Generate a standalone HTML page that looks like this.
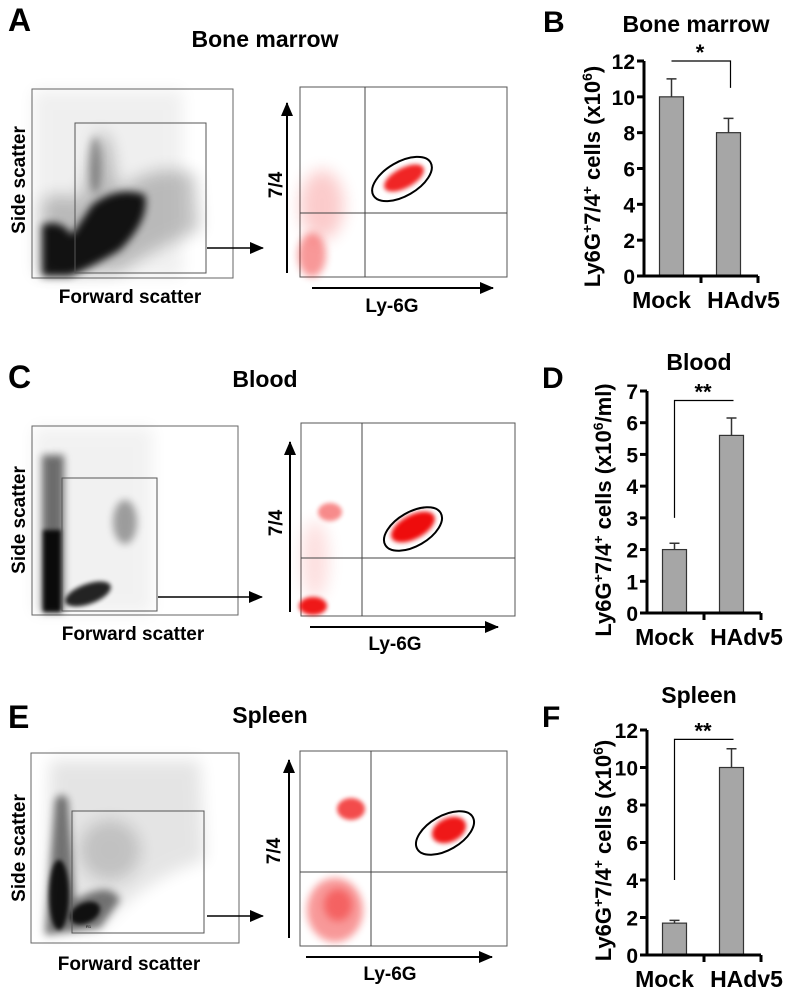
<!DOCTYPE html>
<html><head><meta charset="utf-8">
<style>
html,body{margin:0;padding:0;background:#fff;}
svg{display:block;font-family:"Liberation Sans",Arial,sans-serif;font-weight:bold;}
</style></head>
<body>
<svg id="fig" width="795" height="1000" viewBox="0 0 795 1000" xmlns="http://www.w3.org/2000/svg">
<defs>
<filter id="b2" x="-50%" y="-50%" width="200%" height="200%"><feGaussianBlur stdDeviation="2"/></filter>
<filter id="b4" x="-50%" y="-50%" width="200%" height="200%"><feGaussianBlur stdDeviation="4"/></filter>
<filter id="b8" x="-50%" y="-50%" width="200%" height="200%"><feGaussianBlur stdDeviation="8"/></filter>
<marker id="ah2" markerWidth="14" markerHeight="12" refX="13" refY="6" orient="auto" markerUnits="userSpaceOnUse"><path d="M0,0 L14,6 L0,12 z" fill="#000"/></marker>
</defs>

<text x="8" y="31" font-size="32">A</text>
<text x="265" y="47" font-size="23" text-anchor="middle">Bone marrow</text>
<text x="543" y="32" font-size="30">B</text>
<text x="8" y="388" font-size="32">C</text>
<text x="265" y="387" font-size="23" text-anchor="middle">Blood</text>
<text x="542" y="388" font-size="30">D</text>
<text x="8" y="728" font-size="32">E</text>
<text x="270" y="723" font-size="23" text-anchor="middle">Spleen</text>
<text x="542" y="727" font-size="30">F</text>

<!-- ROW 1 FSC -->
<g>
<rect x="32" y="89" width="201" height="189" fill="#fff" stroke="#666" stroke-width="1"/>
<rect x="33" y="90" width="150" height="187" fill="#000" opacity="0.06" filter="url(#b8)"/>
<path d="M42,275 L42,200 Q60,190 80,200 L98,130 L110,140 L118,190 Q160,160 195,175 L200,230 Q150,250 120,272 Z" fill="#000" opacity="0.22" filter="url(#b8)"/>
<path d="M42,276 L42,225 Q60,218 72,235 L92,205 Q118,185 145,195 Q150,220 120,250 Q90,268 70,276 Z" fill="#000" opacity="0.9" filter="url(#b4)"/>
<ellipse cx="95" cy="165" rx="6" ry="28" fill="#000" opacity="0.3" filter="url(#b4)"/>
<rect x="75" y="123" width="131" height="150" fill="none" stroke="#555" stroke-width="1"/>
</g>
<line x1="207" y1="248" x2="263" y2="248" stroke="#000" stroke-width="1.5" marker-end="url(#ah2)"/>
<text transform="translate(25,180) rotate(-90)" font-size="19" text-anchor="middle">Side scatter</text>
<text x="130" y="303" font-size="19" text-anchor="middle">Forward scatter</text>

<g>
<rect x="300" y="87" width="207" height="190" fill="#fff" stroke="#555" stroke-width="1"/>
<ellipse cx="322" cy="205" rx="22" ry="35" fill="#e00" opacity="0.2" filter="url(#b8)"/>
<ellipse cx="312" cy="255" rx="14" ry="22" fill="#e00" opacity="0.4" filter="url(#b4)"/>
<ellipse cx="404" cy="178" rx="22" ry="10" transform="rotate(-28 404 178)" fill="#e00" opacity="0.85" filter="url(#b2)"/>
<line x1="365" y1="87" x2="365" y2="277" stroke="#444" stroke-width="1"/>
<line x1="300" y1="213" x2="507" y2="213" stroke="#444" stroke-width="1"/>
<ellipse cx="402" cy="179" rx="33" ry="17" transform="rotate(-30 402 179)" fill="none" stroke="#000" stroke-width="2"/>
</g>
<line x1="287" y1="273" x2="287" y2="103" stroke="#000" stroke-width="2" marker-end="url(#ah2)"/>
<line x1="312" y1="288" x2="493" y2="288" stroke="#000" stroke-width="2" marker-end="url(#ah2)"/>
<text transform="translate(282,185) rotate(-90)" font-size="19" text-anchor="middle">7/4</text>
<text x="392" y="312" font-size="19" text-anchor="middle">Ly-6G</text>

<!-- ROW 2 FSC -->
<g>
<rect x="32" y="426" width="206" height="189" fill="#fff" stroke="#666" stroke-width="1"/>
<rect x="33" y="427" width="120" height="187" fill="#000" opacity="0.05" filter="url(#b8)"/>
<rect x="42" y="455" width="22" height="157" fill="#000" opacity="0.55" filter="url(#b4)"/>
<rect x="43" y="530" width="18" height="82" fill="#000" opacity="0.9" filter="url(#b2)"/>
<ellipse cx="88" cy="594" rx="24" ry="10" transform="rotate(-20 88 594)" fill="#000" opacity="0.85" filter="url(#b2)"/>
<ellipse cx="125" cy="522" rx="12" ry="22" fill="#000" opacity="0.35" filter="url(#b4)"/>
<rect x="62" y="478" width="95" height="133" fill="none" stroke="#555" stroke-width="1"/>
</g>
<line x1="158" y1="597" x2="262" y2="597" stroke="#000" stroke-width="1.5" marker-end="url(#ah2)"/>
<text transform="translate(25,520) rotate(-90)" font-size="19" text-anchor="middle">Side scatter</text>
<text x="133" y="640" font-size="19" text-anchor="middle">Forward scatter</text>

<g>
<rect x="301" y="423" width="214" height="193" fill="#fff" stroke="#555" stroke-width="1"/>
<ellipse cx="315" cy="560" rx="14" ry="40" fill="#e00" opacity="0.12" filter="url(#b8)"/>
<ellipse cx="330" cy="512" rx="12" ry="9" fill="#e00" opacity="0.45" filter="url(#b2)"/>
<ellipse cx="313" cy="606" rx="14" ry="9" fill="#e00" opacity="0.9" filter="url(#b2)"/>
<ellipse cx="413" cy="527" rx="24" ry="12" transform="rotate(-28 413 527)" fill="#e00" opacity="0.95" filter="url(#b2)"/>
<line x1="362" y1="423" x2="362" y2="616" stroke="#444" stroke-width="1"/>
<line x1="301" y1="558" x2="515" y2="558" stroke="#444" stroke-width="1"/>
<ellipse cx="413" cy="529" rx="32" ry="17" transform="rotate(-30 413 529)" fill="none" stroke="#000" stroke-width="2"/>
</g>
<line x1="290" y1="612" x2="290" y2="442" stroke="#000" stroke-width="2" marker-end="url(#ah2)"/>
<line x1="310" y1="627" x2="498" y2="627" stroke="#000" stroke-width="2" marker-end="url(#ah2)"/>
<text transform="translate(282,523) rotate(-90)" font-size="19" text-anchor="middle">7/4</text>
<text x="395" y="650" font-size="19" text-anchor="middle">Ly-6G</text>

<!-- ROW 3 FSC -->
<g>
<rect x="31" y="753" width="208" height="190" fill="#fff" stroke="#666" stroke-width="1"/>
<path d="M50,760 L200,760 L205,860 Q140,880 100,930 L45,935 Z" fill="#000" opacity="0.1" filter="url(#b8)"/>
<path d="M55,800 Q62,790 68,800 L75,900 Q110,880 120,900 L100,928 L45,935 Z" fill="#000" opacity="0.5" filter="url(#b4)"/>
<ellipse cx="59" cy="895" rx="10" ry="35" fill="#000" opacity="0.85" filter="url(#b2)"/>
<ellipse cx="85" cy="913" rx="16" ry="10" transform="rotate(-25 85 913)" fill="#000" opacity="0.85" filter="url(#b2)"/>
<ellipse cx="110" cy="850" rx="30" ry="30" fill="#000" opacity="0.15" filter="url(#b8)"/>
<rect x="72" y="811" width="132" height="122" fill="none" stroke="#555" stroke-width="1"/>
<text x="86" y="928" font-size="4" font-weight="normal">R1</text>
</g>
<line x1="207" y1="916" x2="263" y2="916" stroke="#000" stroke-width="1.5" marker-end="url(#ah2)"/>
<text transform="translate(25,848) rotate(-90)" font-size="19" text-anchor="middle">Side scatter</text>
<text x="129" y="970" font-size="19" text-anchor="middle">Forward scatter</text>

<g>
<rect x="300" y="751" width="207" height="195" fill="#fff" stroke="#555" stroke-width="1"/>
<ellipse cx="351" cy="809" rx="14" ry="11" fill="#e00" opacity="0.7" filter="url(#b2)"/>
<ellipse cx="335" cy="910" rx="28" ry="32" fill="#e00" opacity="0.4" filter="url(#b4)"/>
<ellipse cx="338" cy="905" rx="14" ry="16" fill="#e00" opacity="0.35" filter="url(#b4)"/>
<ellipse cx="449" cy="830" rx="18" ry="12" transform="rotate(-25 449 830)" fill="#e00" opacity="0.9" filter="url(#b2)"/>
<line x1="371" y1="751" x2="371" y2="946" stroke="#444" stroke-width="1"/>
<line x1="300" y1="872" x2="507" y2="872" stroke="#444" stroke-width="1"/>
<ellipse cx="445" cy="833" rx="32" ry="17" transform="rotate(-30 445 833)" fill="none" stroke="#000" stroke-width="2"/>
</g>
<line x1="289" y1="938" x2="289" y2="760" stroke="#000" stroke-width="2" marker-end="url(#ah2)"/>
<line x1="306" y1="957" x2="492" y2="957" stroke="#000" stroke-width="2" marker-end="url(#ah2)"/>
<text transform="translate(280,851) rotate(-90)" font-size="19" text-anchor="middle">7/4</text>
<text x="390" y="980" font-size="19" text-anchor="middle">Ly-6G</text>

<g id="bars"></g>
</svg>
<script>
const categories = ["Mock", "HAdv5"];
const bmValues = [10, 8];
const bmErrors = [1, 0.8];
const bmTicks = [0, 2, 4, 6, 8, 10, 12];
const bloodValues = [2, 5.6];
const bloodErrors = [0.2, 0.55];
const bloodTicks = [0, 1, 2, 3, 4, 5, 6, 7];
const spleenValues = [1.7, 10];
const spleenErrors = [0.15, 1];
const spleenTicks = [0, 2, 4, 6, 8, 10, 12];

const NS = "http://www.w3.org/2000/svg";
const root = document.getElementById("bars");
function mk(tag, attrs, parent) {
  const e = document.createElementNS(NS, tag);
  for (const k in attrs) e.setAttribute(k, attrs[k]);
  parent.appendChild(e);
  return e;
}
function drawChart(cfg) {
  const g = mk("g", {}, root);
  
  
  const tmax = cfg.ticks[cfg.ticks.length - 1];
  const y = v => cfg.y0 - (v / tmax) * (cfg.y0 - cfg.yTop);
  const xEnd = cfg.x0 + 114;
  const slot = (xEnd - cfg.x0) / categories.length;
  const xc = i => cfg.x0 + slot * (i + 0.5) - 1;
  categories.forEach((c, i) => {
    const v = cfg.values[i], e = cfg.errors[i];
    const bar = mk("rect", {x: xc(i) - 12, y: y(v), width: 24, height: cfg.y0 - y(v), fill: "#a6a6a6", stroke: "#333", "stroke-width": 1.2}, g);
    
    
    const err = mk("path", {d: `M${xc(i)},${y(v)} V${y(v + e)} M${xc(i) - 5},${y(v + e)} H${xc(i) + 5}`, stroke: "#333", "stroke-width": 1.5, fill: "none"}, g);
    
    
    const lab = mk("text", {x: xc(i) + (i === 0 ? -10 : 15), y: cfg.y0 + 32, "font-size": 23, "text-anchor": "middle"}, g);
    lab.textContent = c;
    
    
  });
  const ax = mk("path", {d: `M${cfg.x0},${y(tmax)} V${cfg.y0} H${xEnd}`, stroke: "#000", "stroke-width": 3, fill: "none"}, g);
  
  
  [cfg.x0 + slot, xEnd].forEach(tx => {
    const t = mk("line", {x1: tx, y1: cfg.y0, x2: tx, y2: cfg.y0 + 7, stroke: "#000", "stroke-width": 3}, g);
    
    
  });
  cfg.ticks.forEach(t => {
    const tk = mk("line", {x1: cfg.x0 - 7, y1: y(t), x2: cfg.x0, y2: y(t), stroke: "#000", "stroke-width": 3}, g);
    
    
    const tl = mk("text", {x: cfg.x0 - 9, y: y(t) + 8, "font-size": 21, "text-anchor": "end"}, g);
    tl.textContent = t;
    
    
  });
  const yt = mk("text", {transform: `translate(${cfg.titleX},${(cfg.y0 + y(tmax)) / 2 + 8}) rotate(-90)`, "font-size": 22, "text-anchor": "middle"}, g);
  
  
  yt.innerHTML = 'Ly6G<tspan dy="-8" font-size="14">+</tspan><tspan dy="8">7/4</tspan><tspan dy="-8" font-size="14">+</tspan><tspan dy="8"> cells (x10</tspan><tspan dy="-8" font-size="14">6</tspan><tspan dy="8">' + cfg.unit + ')</tspan>';
  const ct = mk("text", {x: cfg.x0 + 52, y: cfg.titleY, "font-size": 23, "text-anchor": "middle"}, g);
  ct.textContent = cfg.title;
  
  
  const b = cfg.bracket;
  const br = mk("path", {d: `M${xc(0)},${y(b.left)} V${y(b.top)} H${xc(1) + 2} V${y(b.right)}`, stroke: "#000", "stroke-width": 1.2, fill: "none"}, g);
  
  
  const st = mk("text", {x: (xc(0) + xc(1)) / 2, y: y(b.top) - 1, "font-size": 22, "text-anchor": "middle"}, g);
  st.textContent = b.stars;
  
  
}
drawChart({name: "bar-chart-bone-marrow", x0: 644, y0: 276, yTop: 61, values: bmValues, errors: bmErrors, ticks: bmTicks, titleX: 600, unit: "", title: "Bone marrow", titleY: 32, bracket: {left: 12, top: 12, right: 10.5, stars: "*"}});
drawChart({name: "bar-chart-blood", x0: 647, y0: 613, yTop: 391, values: bloodValues, errors: bloodErrors, ticks: bloodTicks, titleX: 611, unit: "/ml", title: "Blood", titleY: 370, bracket: {left: 3, top: 6.7, right: 6.7, stars: "**"}});
drawChart({name: "bar-chart-spleen", x0: 647, y0: 955, yTop: 730, values: spleenValues, errors: spleenErrors, ticks: spleenTicks, titleX: 611, unit: "", title: "Spleen", titleY: 703, bracket: {left: 4, top: 11.5, right: 11.5, stars: "**"}});
</script>
</body></html>
